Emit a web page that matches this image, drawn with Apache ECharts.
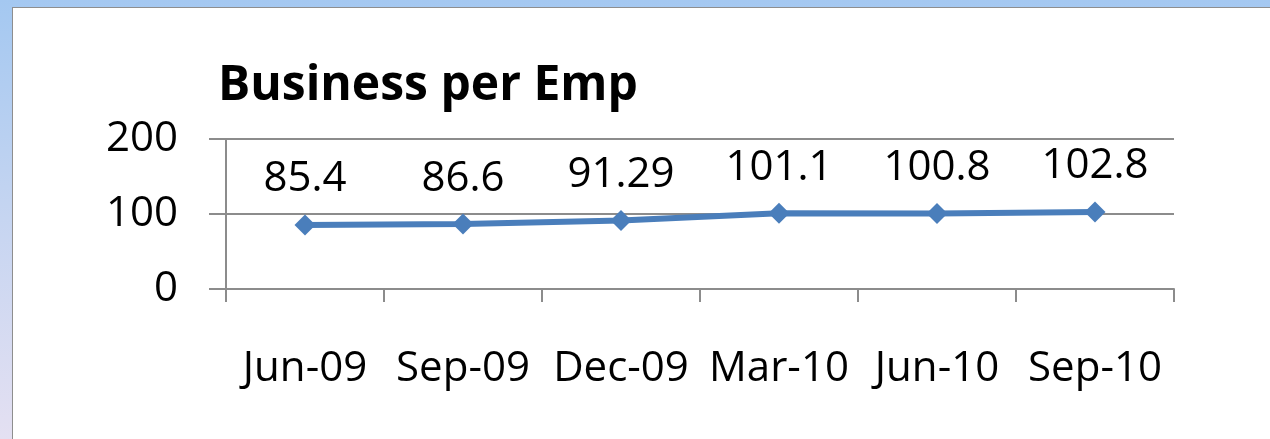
<!DOCTYPE html>
<html>
<head>
<meta charset="utf-8">
<script src="https://cdn.jsdelivr.net/npm/echarts@6/dist/echarts.min.js"></script>
<style>
  html, body { margin: 0; padding: 0; }
  body {
    width: 1270px; height: 439px; overflow: hidden; position: relative;
    background: linear-gradient(to bottom, #a4c8f1 0%, #c6d5f1 50%, #e4e0f2 100%);
  }
  #panel {
    position: absolute; left: 12px; top: 7px; width: 1300px; height: 460px;
    background: #ffffff; border: 1px solid #8e8e8e;
  }
  #echarts { position: absolute; left: 0; top: 0; width: 1270px; height: 439px; }
</style>
</head>
<body>
<div id="panel"></div>
<div id="echarts"></div>
<script>
// dados do gráfico
var categorias = ['Jun-09', 'Sep-09', 'Dec-09', 'Mar-10', 'Jun-10', 'Sep-10'];
var valores = [85.4, 86.6, 91.29, 101.1, 100.8, 102.8];
var rotulos = ['85.4', '86.6', '91.29', '101.1', '100.8', '102.8'];

var chart = echarts.init(document.getElementById('echarts'));

var fonte = '"Open Sans", sans-serif';
var cinza = '#8c8c8c';

var options = {
    backgroundColor: 'transparent',
    animation: false,
    title: {
        text: 'Business per Emp',
        left: 213,
        top: 57,
        textStyle: {
            fontFamily: fonte,
            fontWeight: 'bold',
            fontSize: 48,
            color: '#000000'
        }
    },
    grid: {
        left: 226,
        right: 96,
        top: 139,
        bottom: 150
    },
    xAxis: {
        type: 'category',
        data: categorias,
        boundaryGap: true,
        axisLine: { lineStyle: { color: cinza, width: 2 } },
        axisTick: { show: true, length: 13, alignWithLabel: false, lineStyle: { color: cinza, width: 2 } },
        axisLabel: {
            margin: 59,
            interval: 0,
            fontFamily: fonte,
            fontSize: 42,
            color: '#000000'
        }
    },
    yAxis: {
        type: 'value',
        min: 0,
        max: 200,
        interval: 100,
        axisLine: { show: true, lineStyle: { color: cinza, width: 2 } },
        axisTick: { show: true, length: 17, lineStyle: { color: cinza, width: 2 } },
        splitLine: { lineStyle: { color: cinza, width: 2 } },
        axisLabel: {
            margin: 48,
            fontFamily: fonte,
            fontSize: 42,
            color: '#000000'
        }
    },
    series: [
        {
            name: 'Business per Emp',
            type: 'line',
            data: valores,
            symbol: 'diamond',
            symbolSize: 21,
            lineStyle: { color: '#4a7ebb', width: 6 },
            itemStyle: { color: '#4a7ebb' },
            label: {
                show: true,
                position: 'top',
                distance: 14,
                fontFamily: fonte,
                fontSize: 42,
                color: '#000000',
                formatter: function (p) {
                    return rotulos[p.dataIndex];
                }
            }
        }
    ]
};

chart.setOption(options);
</script>
</body>
</html>
